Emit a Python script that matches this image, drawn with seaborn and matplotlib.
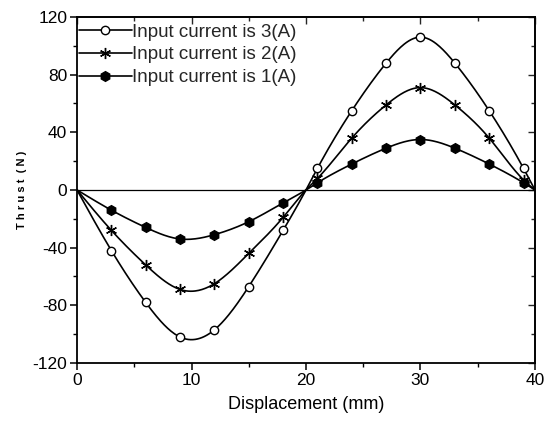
import numpy as np
import pandas as pd
import matplotlib
matplotlib.use("Agg")
import matplotlib.pyplot as plt
import seaborn as sns
from matplotlib.lines import Line2D

# ---- data ----
displacement = [0, 3, 6, 9, 12, 15, 18, 20, 21, 24, 27, 30, 33, 36, 39, 40]
has_marker = [False, True, True, True, True, True, True, False, True, True, True, True, True, True, True, False]
thrust_3A = [0, -42, -78, -102, -97, -67, -28, 0, 15, 55, 88, 106, 88, 55, 15, 0]
thrust_2A = [0, -28, -52, -69, -65, -44, -19, 0, 8, 36, 59, 71, 59, 36, 7, 0]
thrust_1A = [0, -14, -26, -34, -31, -22, -9, 0, 5, 18, 29, 35, 29, 18, 5, 0]
series_labels = ["Input current is 3(A)", "Input current is 2(A)", "Input current is 1(A)"]
x_ticks = [0, 10, 20, 30, 40]
y_ticks = [-120, -80, -40, 0, 40, 80, 120]


def natural_spline(x, y, n=400):
    x = np.asarray(x, float); y = np.asarray(y, float)
    m = len(x); h = np.diff(x)
    A = np.zeros((m, m)); b = np.zeros(m)
    A[0, 0] = A[-1, -1] = 1
    for i in range(1, m - 1):
        A[i, i - 1] = h[i - 1]; A[i, i] = 2 * (h[i - 1] + h[i]); A[i, i + 1] = h[i]
        b[i] = 3 * ((y[i + 1] - y[i]) / h[i] - (y[i] - y[i - 1]) / h[i - 1])
    c = np.linalg.solve(A, b)
    bb = np.diff(y) / h - h * (2 * c[:-1] + c[1:]) / 3
    d = np.diff(c) / (3 * h)
    xs = np.linspace(x[0], x[-1], n)
    idx = np.clip(np.searchsorted(x, xs, side="right") - 1, 0, m - 2)
    t = xs - x[idx]
    ys = y[idx] + bb[idx] * t + c[idx] * t ** 2 + d[idx] * t ** 3
    return xs, ys


sns.set_theme(style="ticks")
plt.rcParams["font.family"] = ["Liberation Sans", "DejaVu Sans"]
plt.rcParams["axes.unicode_minus"] = False

fig = plt.figure(figsize=(5.47, 4.24), dpi=100)
ax = fig.add_axes([0.1408, 0.1439, 0.8372, 0.8161])

ax.axhline(0, color="black", lw=0.9, zorder=1)

markers = [dict(marker="o", mfc="white", ms=6),
           dict(marker=(6, 2, 0), mfc="black", ms=8),
           dict(marker="h", mfc="black", ms=7)]
handles = []
for ys, lab, mk in zip([thrust_3A, thrust_2A, thrust_1A], series_labels, markers):
    xs_s, ys_s = natural_spline(displacement, ys)
    sns.lineplot(x=xs_s, y=ys_s, ax=ax, color="black", lw=1.2, zorder=2, estimator=None, sort=False)
    df = pd.DataFrame({"x": displacement, "y": ys, "m": has_marker})
    df = df[df["m"]]
    ax.plot(df["x"], df["y"], ls="none", marker=mk["marker"], mfc=mk["mfc"],
            mec="black", mew=1.0, ms=mk["ms"], zorder=3)
    handles.append(Line2D([0], [0], color="black", lw=1.2, marker=mk["marker"],
                          mfc=mk["mfc"], mec="black", mew=1.0, ms=mk["ms"]))

ax.set_xlim(0, 40)
ax.set_ylim(-120, 120)
ax.set_xticks(x_ticks)
ax.set_yticks(y_ticks)
ax.set_xticks(np.arange(5, 40, 10), minor=True)
ax.set_yticks(np.arange(-100, 120, 40), minor=True)
ax.tick_params(axis="both", which="major", direction="out", length=5, width=1.1,
               labelsize=12.5, color="black", labelcolor="black", pad=2)
ax.tick_params(axis="both", which="minor", direction="out", length=3, width=1.0, color="black")
for s in ax.spines.values():
    s.set_visible(True)
    s.set_color("black")
    s.set_linewidth(1.3)

sec_x = ax.secondary_xaxis("top")
sec_x.set_xticks(x_ticks, labels=[])
sec_x.set_xticks(np.arange(5, 40, 10), minor=True)
sec_x.tick_params(which="major", direction="in", length=5, width=1.0)
sec_x.tick_params(which="minor", direction="in", length=3, width=1.0)
sec_y = ax.secondary_yaxis("right")
sec_y.set_yticks(y_ticks, labels=[])
sec_y.set_yticks(np.arange(-100, 120, 40), minor=True)
sec_y.tick_params(which="major", direction="in", length=5, width=1.0)
sec_y.tick_params(which="minor", direction="in", length=3, width=1.0)

ax.set_xlabel("Displacement (mm)", fontsize=13, color="black", labelpad=6)
ax.set_ylabel("T h r u s t  ( N )", fontsize=8, color="black", fontweight="bold", labelpad=4)

ax.legend(handles, series_labels, loc="upper left", frameon=False, fontsize=13.5,
          handlelength=2.8, handletextpad=0.02, borderaxespad=0.0, labelspacing=0.3,
          borderpad=0.35, bbox_to_anchor=(-0.01, 1.0))

fig.savefig("out.png", dpi=100)
